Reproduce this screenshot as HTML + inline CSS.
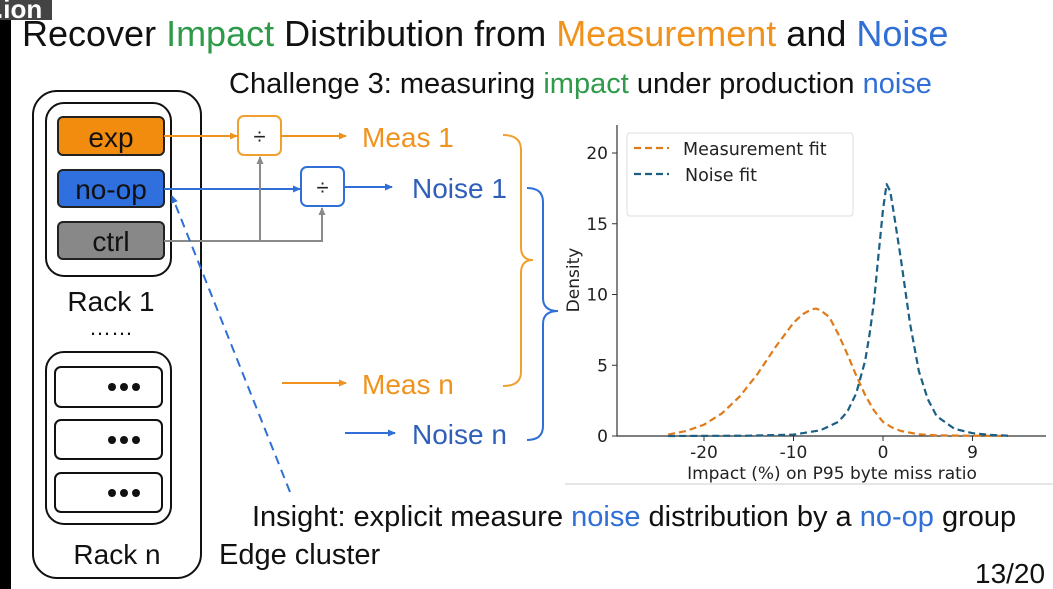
<!DOCTYPE html>
<html><head><meta charset="utf-8"><style>
body{margin:0;width:1053px;height:589px;overflow:hidden;background:#fff;font-family:"Liberation Sans",sans-serif}
svg{display:block}
</style></head><body>
<svg width="1053" height="589" viewBox="0 0 1053 589" xmlns="http://www.w3.org/2000/svg" font-family="Liberation Sans, sans-serif">
<defs>
<marker id="ao" markerWidth="8" markerHeight="8" refX="7" refY="4" orient="auto" markerUnits="userSpaceOnUse" viewBox="0 0 8 8"><path d="M0,0.5 L8,4 L0,7.5z" fill="#f0921e"/></marker>
<marker id="ab" markerWidth="8" markerHeight="8" refX="7" refY="4" orient="auto" markerUnits="userSpaceOnUse" viewBox="0 0 8 8"><path d="M0,0.5 L8,4 L0,7.5z" fill="#2f6fd6"/></marker>
<marker id="ag" markerWidth="8" markerHeight="8" refX="7" refY="4" orient="auto" markerUnits="userSpaceOnUse" viewBox="0 0 8 8"><path d="M0,0.5 L8,4 L0,7.5z" fill="#8a8a8a"/></marker>
</defs>
<rect x="0" y="0" width="11" height="589" fill="#000"/>
<rect x="0" y="0" width="52" height="20" fill="#444"/>
<text x="-4" y="18" font-size="26" font-weight="bold" fill="#fff">.ion</text>
<text x="22" y="46" font-size="36" fill="#111">Recover <tspan fill="#2e9a4a">Impact</tspan> Distribution from <tspan fill="#f0921e">Measurement</tspan> and <tspan fill="#2f6fd6">Noise</tspan></text>
<text x="229" y="93" font-size="29" fill="#111">Challenge 3: measuring <tspan fill="#2e9a4a">impact</tspan> under production <tspan fill="#2f6fd6">noise</tspan></text>

<rect x="33" y="91" width="168" height="487" rx="24" fill="none" stroke="#111" stroke-width="2"/>
<rect x="46" y="103" width="125" height="173" rx="18" fill="none" stroke="#111" stroke-width="2"/>
<rect x="58" y="117" width="106" height="38" rx="5" fill="#f28c0f" stroke="#222" stroke-width="2"/>
<text x="111" y="147" font-size="28" text-anchor="middle" fill="#111">exp</text>
<rect x="58" y="170" width="106" height="37" rx="5" fill="#2f6fde" stroke="#222" stroke-width="2"/>
<text x="111" y="199" font-size="28" text-anchor="middle" fill="#111">no-op</text>
<rect x="58" y="222" width="106" height="37" rx="5" fill="#888" stroke="#222" stroke-width="2"/>
<text x="111" y="251" font-size="28" text-anchor="middle" fill="#111">ctrl</text>
<text x="111" y="311" font-size="28" text-anchor="middle" fill="#111">Rack 1</text>
<text x="111" y="335" font-size="22" text-anchor="middle" fill="#111">……</text>
<rect x="46" y="352" width="125" height="172" rx="18" fill="none" stroke="#111" stroke-width="2"/>
<g fill="none" stroke="#111" stroke-width="2">
<rect x="55" y="367" width="107" height="40" rx="6"/><rect x="55" y="420" width="107" height="39" rx="6"/><rect x="55" y="473" width="107" height="39" rx="6"/>
</g>
<g fill="#111"><circle cx="112" cy="387" r="4"/><circle cx="124" cy="387" r="4"/><circle cx="136" cy="387" r="4"/>
<circle cx="112" cy="440" r="4"/><circle cx="124" cy="440" r="4"/><circle cx="136" cy="440" r="4"/>
<circle cx="112" cy="493" r="4"/><circle cx="124" cy="493" r="4"/><circle cx="136" cy="493" r="4"/></g>
<text x="117" y="564" font-size="28" text-anchor="middle" fill="#111">Rack n</text>
<text x="219" y="564" font-size="29" fill="#111">Edge cluster</text>

<line x1="164" y1="136" x2="237" y2="136" stroke="#f0921e" stroke-width="2" marker-end="url(#ao)"/>
<rect x="238" y="116" width="43" height="39" rx="6" fill="#fff" stroke="#f0a030" stroke-width="2"/>
<text x="259.5" y="144" font-size="22" text-anchor="middle" fill="#222">÷</text>
<line x1="281" y1="136" x2="346" y2="136" stroke="#f0921e" stroke-width="2" marker-end="url(#ao)"/>
<line x1="164" y1="189" x2="300" y2="189" stroke="#2f6fd6" stroke-width="2" marker-end="url(#ab)"/>
<rect x="301" y="167" width="43" height="39" rx="6" fill="#fff" stroke="#2f6fd6" stroke-width="2"/>
<text x="322.5" y="195" font-size="22" text-anchor="middle" fill="#222">÷</text>
<line x1="344" y1="187" x2="392" y2="187" stroke="#2f6fd6" stroke-width="2" marker-end="url(#ab)"/>
<polyline points="164,241 322,241 322,208" fill="none" stroke="#8a8a8a" stroke-width="2" marker-end="url(#ag)"/>
<line x1="260" y1="241" x2="260" y2="157" stroke="#8a8a8a" stroke-width="2" marker-end="url(#ag)"/>
<line x1="290" y1="492" x2="172" y2="196" stroke="#2f6fd6" stroke-width="2" stroke-dasharray="9,6" marker-end="url(#ab)"/>
<text x="362" y="147" font-size="28" fill="#f0921e">Meas 1</text>
<text x="412" y="198" font-size="28" fill="#2f5fb8">Noise 1</text>
<line x1="282" y1="383" x2="346" y2="383" stroke="#f0921e" stroke-width="2" marker-end="url(#ao)"/>
<text x="362" y="394" font-size="28" fill="#f0921e">Meas n</text>
<line x1="345" y1="433" x2="395" y2="433" stroke="#2f6fd6" stroke-width="2" marker-end="url(#ab)"/>
<text x="412" y="444" font-size="28" fill="#2f5fb8">Noise n</text>
<path d="M503,135 Q521,135 521,150 L521,247 Q521,260 533,260 Q521,260 521,273 L521,372 Q521,386 503,386" fill="none" stroke="#f0a030" stroke-width="2"/>
<path d="M527,188 Q543,188 543,202 L543,298 Q543,311 558,311 Q543,311 543,324 L543,426 Q543,440 527,440" fill="none" stroke="#2f6fd6" stroke-width="2"/>
<text x="252" y="526" font-size="29" fill="#111">Insight: explicit measure <tspan fill="#2f6fd6">noise</tspan> distribution by a <tspan fill="#2f6fd6">no-op</tspan> group</text>
<text x="975" y="583" font-size="28" fill="#111">13/20</text>
<line x1="565" y1="484" x2="1053" y2="484" stroke="#e6e6e6" stroke-width="2"/>
<g id="chart"></g>
</svg>
<script>
const xTicks=[-20,-10,0,10];
const xTickLabels=["-20","-10","0","9"];
const yTicks=[0,5,10,15,20];
const measX=[-24,-22,-20,-18,-16,-14,-12,-10,-9,-8,-7.5,-7,-6,-5,-4,-3,-2,-1,0,1,2,4,6,10,14];
const measY=[0.1,0.35,0.8,1.6,2.8,4.4,6.3,8.0,8.6,8.95,9.0,8.9,8.4,7.2,5.8,4.3,2.9,1.8,1.0,0.6,0.35,0.12,0.05,0.02,0.01];
const noiseX=[-24,-15,-10,-7,-5,-4,-3,-2,-1.5,-1,-0.5,0,0.4,0.8,1.2,2,3,4,5,6,8,10,12,14];
const noiseY=[0,0.02,0.1,0.4,1.0,1.7,3.0,5.3,7.2,9.5,12.8,16.0,17.8,17.3,15.8,12.5,8.0,4.6,2.6,1.4,0.5,0.2,0.08,0.02];
const NS="http://www.w3.org/2000/svg";
const g=document.getElementById('chart');
const xs=v=>883+v*8.95, ys=v=>436-v*14.15;
const FF='DejaVu Sans, sans-serif';
function mk(t,a,p){const e=document.createElementNS(NS,t);for(const k in a)e.setAttribute(k,a[k]);(p||g).appendChild(e);return e;}
let ax=mk('path',{d:'M617,125 L617,436 L1046,436',fill:'none',stroke:'#333','stroke-width':1.2});


xTicks.forEach((v,i)=>{mk('line',{x1:xs(v),x2:xs(v),y1:436,y2:441,stroke:'#333'});
 const t=mk('text',{x:xs(v),y:458,'font-size':17,'text-anchor':'middle',fill:'#222','font-family':FF});t.textContent=xTickLabels[i];
 
 });
yTicks.forEach(v=>{mk('line',{x1:612,x2:617,y1:ys(v),y2:ys(v),stroke:'#333'});
 const t=mk('text',{x:608,y:ys(v)+6,'font-size':17,'text-anchor':'end',fill:'#222','font-family':FF});t.textContent=v;
 
 });
let yt=mk('text',{x:0,y:0,transform:'translate(579,280) rotate(-90)','font-size':17,'text-anchor':'middle',fill:'#222','font-family':FF});yt.textContent='Density';


let xt=mk('text',{x:832,y:479,'font-size':17,'text-anchor':'middle',fill:'#222','font-family':FF});xt.textContent='Impact (%) on P95 byte miss ratio';


function line(X,Y,c,name){const p=mk('path',{d:X.map((x,i)=>(i?'L':'M')+xs(x).toFixed(1)+','+ys(Y[i]).toFixed(1)).join(' '),fill:'none',stroke:c,'stroke-width':2.2,'stroke-dasharray':'7,4','stroke-linejoin':'round'});
 
 }
line(measX,measY,'#e07b1a','measurement-fit-line');
line(noiseX,noiseY,'#1b5f85','noise-fit-line');
let lg=mk('rect',{x:627,y:133,width:226,height:83,rx:3,fill:'#fff',stroke:'#ddd'});


mk('line',{x1:634,x2:669,y1:148,y2:148,stroke:'#e07b1a','stroke-width':2.2,'stroke-dasharray':'7,4'});
mk('line',{x1:634,x2:669,y1:174,y2:174,stroke:'#1b5f85','stroke-width':2.2,'stroke-dasharray':'7,4'});
let l1=mk('text',{x:683,y:155,'font-size':17.5,fill:'#222','font-family':FF});l1.textContent='Measurement fit';


let l2=mk('text',{x:685,y:181,'font-size':17.5,fill:'#222','font-family':FF});l2.textContent='Noise fit';


</script>
</body></html>
